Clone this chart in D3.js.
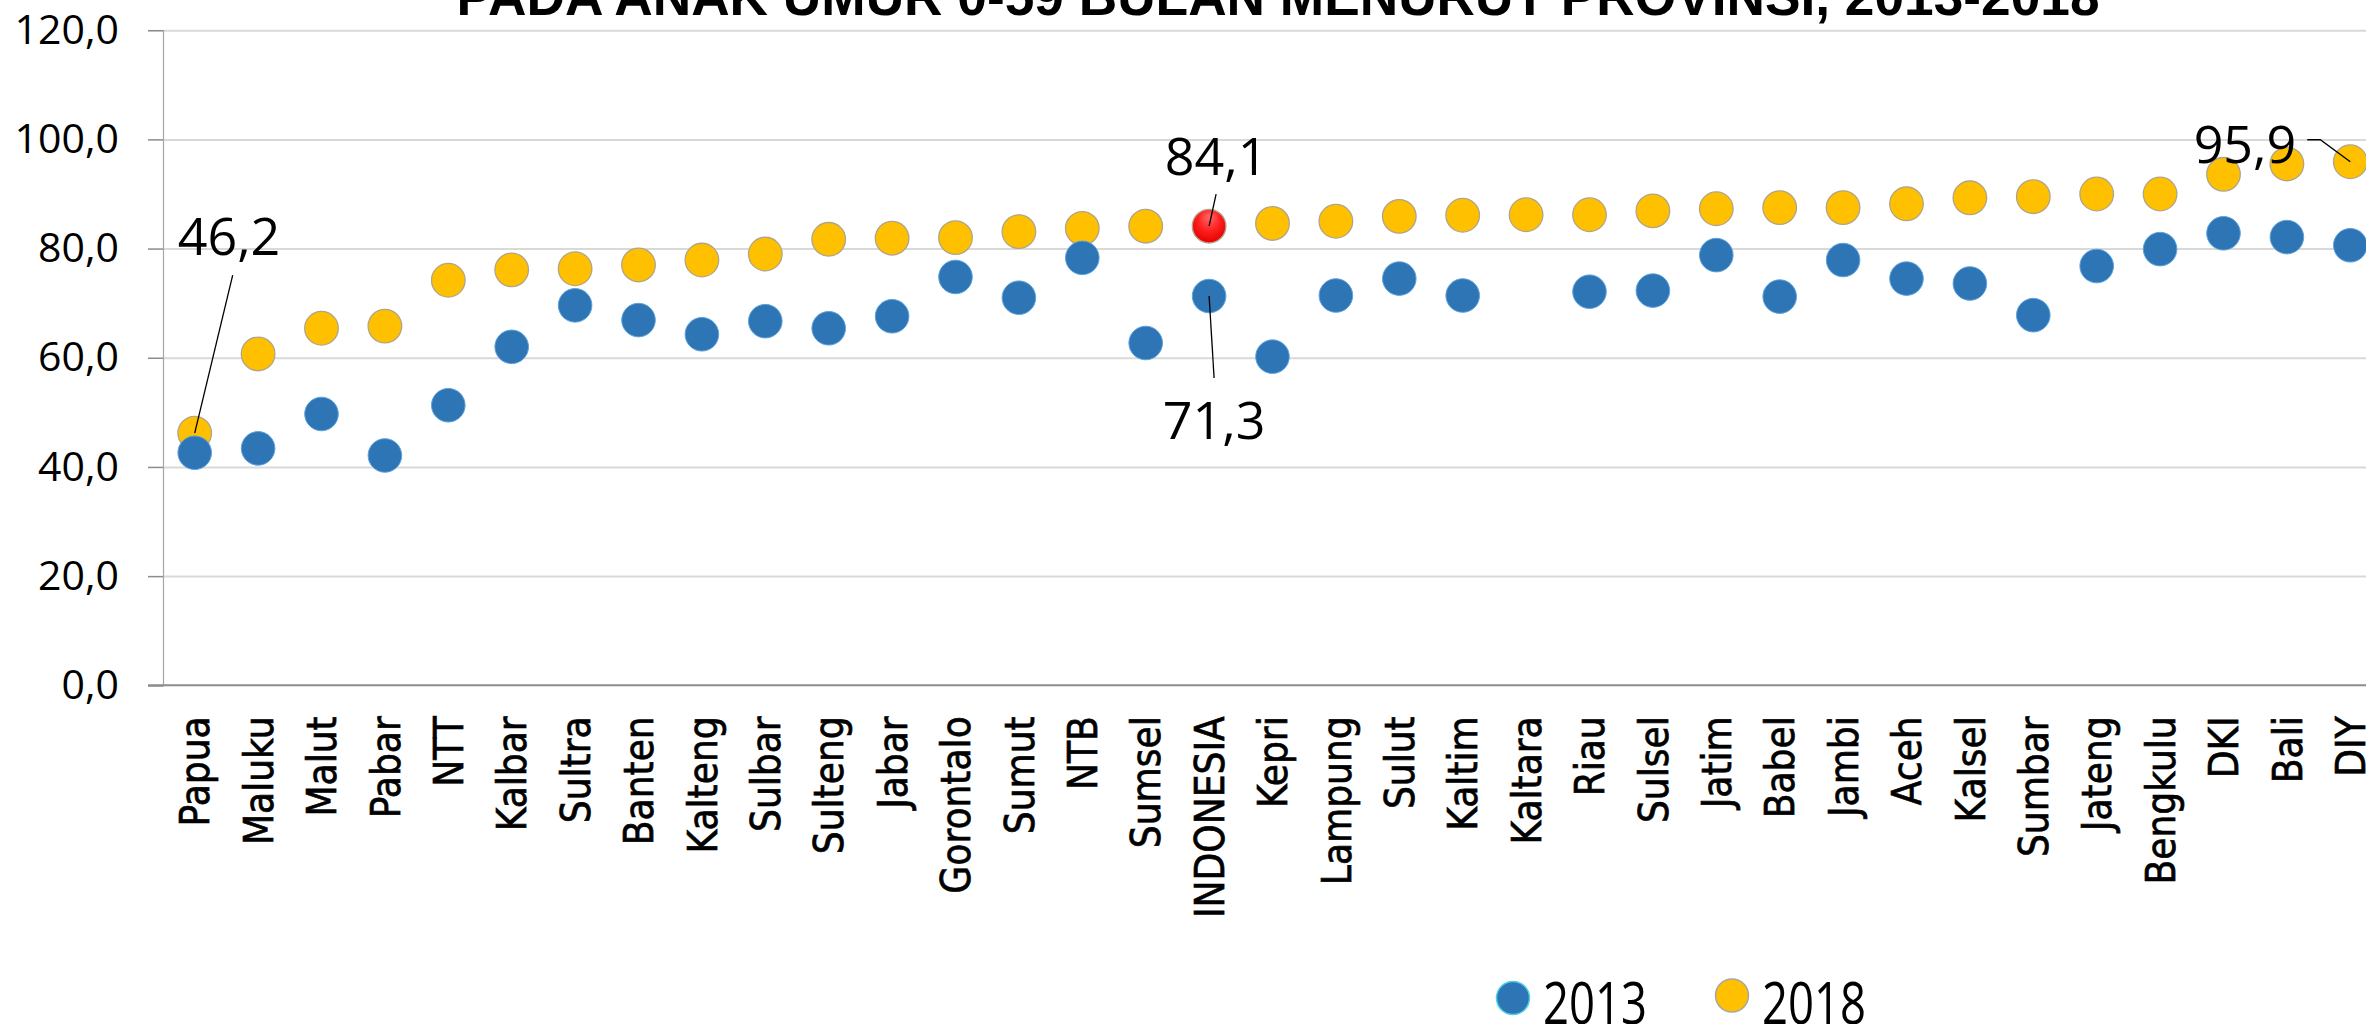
<!DOCTYPE html>
<html>
<head>
<meta charset="utf-8">
<script src="https://cdn.jsdelivr.net/npm/d3@7/dist/d3.min.js"></script>
<style>
    body { margin: 0; background: #ffffff; }
    svg { display: block; }
</style>
</head>
<body>
<div id="chart"></div>
<script>
const provinces = [
    "Papua", "Maluku", "Malut", "Pabar", "NTT", "Kalbar", "Sultra", "Banten",
    "Kalteng", "Sulbar", "Sulteng", "Jabar", "Gorontalo", "Sumut", "NTB", "Sumsel",
    "INDONESIA", "Kepri", "Lampung", "Sulut", "Kaltim", "Kaltara", "Riau", "Sulsel",
    "Jatim", "Babel", "Jambi", "Aceh", "Kalsel", "Sumbar", "Jateng", "Bengkulu",
    "DKI", "Bali", "DIY"
]

const values2013 = [
    42.6, 43.4, 49.7, 42.1, 51.3, 62.0, 69.6, 66.9,
    64.3, 66.7, 65.4, 67.6, 74.8, 71.0, 78.3, 62.7,
    71.3, 60.2, 71.4, 74.5, 71.4, null, 72.1, 72.3,
    78.8, 71.2, 77.9, 74.5, 73.6, 67.8, 76.8, 79.9,
    82.8, 82.1, 80.6
]

const values2018 = [
    46.2, 60.7, 65.4, 65.8, 74.2, 76.1, 76.3, 77.0,
    77.9, 79.0, 81.7, 81.9, 82.0, 83.1, 83.7, 84.1,
    84.1, 84.6, 85.0, 85.9, 86.1, 86.2, 86.2, 86.9,
    87.3, 87.5, 87.5, 88.2, 89.3, 89.5, 90.0, 90.0,
    93.6, 95.5, 95.9
]

const yTicks = [0, 20, 40, 60, 80, 100, 120]
const seriesNames = ["2013", "2018"]
const highlight = "INDONESIA"
const chartTitle = "PADA ANAK UMUR 0-59 BULAN MENURUT PROVINSI, 2013-2018"

// which points get a value label
const labelled = [
    { province: "Papua", series: "2018" },
    { province: "INDONESIA", series: "2018" },
    { province: "INDONESIA", series: "2013" },
    { province: "DIY", series: "2018" },
]

const blue = "#2e75b6"
const yellow = "#ffc000"
const formatValue = d => d3.format(".1f")(d).replace(".", ",")

let dimensions = {
    width: 2366,
    height: 1024,
    margin: { top: 30.2, left: 163, bottom: 338.7 },
}
dimensions.boundedHeight = dimensions.height - dimensions.margin.top - dimensions.margin.bottom

const wrapper = d3.select("#chart").append("svg")
    .attr("width", dimensions.width)
    .attr("height", dimensions.height)

const defs = wrapper.append("defs")
const redGrad = defs.append("radialGradient")
    .attr("id", "red-grad")
    .attr("cx", "50%").attr("cy", "40%").attr("r", "60%")
    .attr("fx", "50%").attr("fy", "20%")
redGrad.append("stop").attr("offset", "0%").attr("stop-color", "#ff6b6b")
redGrad.append("stop").attr("offset", "55%").attr("stop-color", "#ff2020")
redGrad.append("stop").attr("offset", "100%").attr("stop-color", "#e60000")

// scales
const xScale = d3.scaleBand()
    .domain(provinces)
    .range([dimensions.margin.left, dimensions.margin.left + provinces.length * 63.4])

const yScale = d3.scaleLinear()
    .domain([0, 120])
    .range([dimensions.margin.top + dimensions.boundedHeight, dimensions.margin.top])

const cx = p => xScale(p) + xScale.bandwidth() / 2

// gridlines
const grid = wrapper.append("g")
    .attr("transform", `translate(${dimensions.margin.left},0)`)
    .call(d3.axisLeft(yScale)
        .tickValues(yTicks.filter(t => t > 0))
        .tickSize(-(dimensions.width - dimensions.margin.left))
        .tickFormat(""))
grid.select(".domain").remove()
grid.selectAll("line").attr("stroke", "#d9d9d9").attr("stroke-width", 2)

// y axis
const yAxis = wrapper.append("g")
    .attr("transform", `translate(${dimensions.margin.left},0)`)
    .call(d3.axisLeft(yScale)
        .tickValues(yTicks)
        .tickSize(15)
        .tickPadding(29)
        .tickFormat(formatValue))
yAxis.select(".domain")
    .attr("stroke", "#a6a6a6")
    .attr("stroke-width", 1.2)
yAxis.selectAll(".tick line").attr("stroke", "#8c8c8c").attr("stroke-width", 1.5)
yAxis.selectAll("text")
    .attr("fill", "#000")
    .style("font-family", "'Open Sans', sans-serif")
    .style("font-size", "41px")

// baseline at zero
wrapper.append("line")
    .attr("x1", dimensions.margin.left - 15)
    .attr("x2", dimensions.width)
    .attr("y1", yScale(0))
    .attr("y2", yScale(0))
    .attr("stroke", "#8c8c8c")
    .attr("stroke-width", 2)

// x axis labels, rotated and a bit condensed along the text
const xAxis = wrapper.append("g")
    .attr("transform", `translate(0,${yScale(0)})`)
    .call(d3.axisBottom(xScale).tickSize(0))
xAxis.select(".domain").remove()
xAxis.selectAll("text")
    .attr("transform", "rotate(-90) scale(0.88,1)")
    .attr("text-anchor", "end")
    .attr("x", -31 / 0.88)
    .attr("y", 0)
    .attr("dy", "0.36em")
    .attr("fill", "#000")
    .attr("stroke", "#000")
    .attr("stroke-width", 0.7)
    .style("font-family", "'DejaVu Sans', Verdana, sans-serif")
    .style("font-size", "41px")

// title (top part is cut off in the picture)
wrapper.append("text")
    .attr("x", 1278)
    .attr("y", 15)
    .attr("text-anchor", "middle")
    .attr("textLength", 1643)
    .attr("lengthAdjust", "spacingAndGlyphs")
    .style("font-family", "'Liberation Sans', Arial, sans-serif")
    .style("font-weight", "bold")
    .style("font-size", "53px")
    .text(chartTitle)

// dots
const points2018 = provinces.map((p, i) => ({ province: p, value: values2018[i] }))
const points2013 = provinces.map((p, i) => ({ province: p, value: values2013[i] }))
    .filter(d => d.value != null)

wrapper.append("g").selectAll("circle")
    .data(points2018)
    .join("circle")
    .attr("cx", d => cx(d.province))
    .attr("cy", d => yScale(d.value))
    .attr("r", 16.8)
    .attr("fill", d => d.province == highlight ? "url(#red-grad)" : yellow)
    .attr("stroke", "#b0a58a")
    .attr("stroke-width", 1.3)

wrapper.append("g").selectAll("circle")
    .data(points2013)
    .join("circle")
    .attr("cx", d => cx(d.province))
    .attr("cy", d => yScale(d.value))
    .attr("r", 16.8)
    .attr("fill", blue)
    .attr("stroke", "#5fa3dc")
    .attr("stroke-width", 1)

// value labels with leader lines
const labelLayout = {
    "Papua|2018": { dx: -17, dy: -178, anchor: "start", leader: [[38, -158], [0, 0]] },
    "INDONESIA|2018": { dx: 7, dy: -51, anchor: "middle", leader: [[7, -32], [0, 0]] },
    "INDONESIA|2013": { dx: 5, dy: 143, anchor: "middle", leader: [[0, 0], [5, 82]] },
    "DIY|2018": { dx: -54, dy: 1, anchor: "end", leader: [[-43, -22], [-30, -22], [0, 0]] },
}

const labelsGroup = wrapper.append("g")
labelled.forEach(l => {
    const i = provinces.indexOf(l.province)
    const v = l.series == "2013" ? values2013[i] : values2018[i]
    const x = cx(l.province)
    const y = yScale(v)
    const lay = labelLayout[`${l.province}|${l.series}`]

    labelsGroup.append("path")
        .attr("d", d3.line()(lay.leader.map(p => [x + p[0], y + p[1]])))
        .attr("fill", "none")
        .attr("stroke", "#000")
        .attr("stroke-width", 1.3)

    labelsGroup.append("text")
        .attr("x", x + lay.dx)
        .attr("y", y + lay.dy)
        .attr("text-anchor", lay.anchor)
        .style("font-family", "'Open Sans', sans-serif")
        .style("font-size", "52px")
        .text(formatValue(v))
})

// legend
const legendItems = [
    { name: seriesNames[0], color: blue, stroke: "#4fd0e0", x: 1513, y: 998 },
    { name: seriesNames[1], color: yellow, stroke: "#a6a6a6", x: 1732, y: 995.5 },
]
const legend = wrapper.append("g")
legendItems.forEach(item => {
    legend.append("circle")
        .attr("cx", item.x)
        .attr("cy", item.y)
        .attr("r", 16.5)
        .attr("fill", item.color)
        .attr("stroke", item.stroke)
        .attr("stroke-width", 1.5)
    legend.append("text")
        .attr("x", item.x + 30)
        .attr("y", 1024)
        .attr("textLength", 104)
        .attr("lengthAdjust", "spacingAndGlyphs")
        .style("font-family", "'Open Sans', sans-serif")
        .style("font-size", "58px")
        .text(item.name)
})
</script>
</body>
</html>
